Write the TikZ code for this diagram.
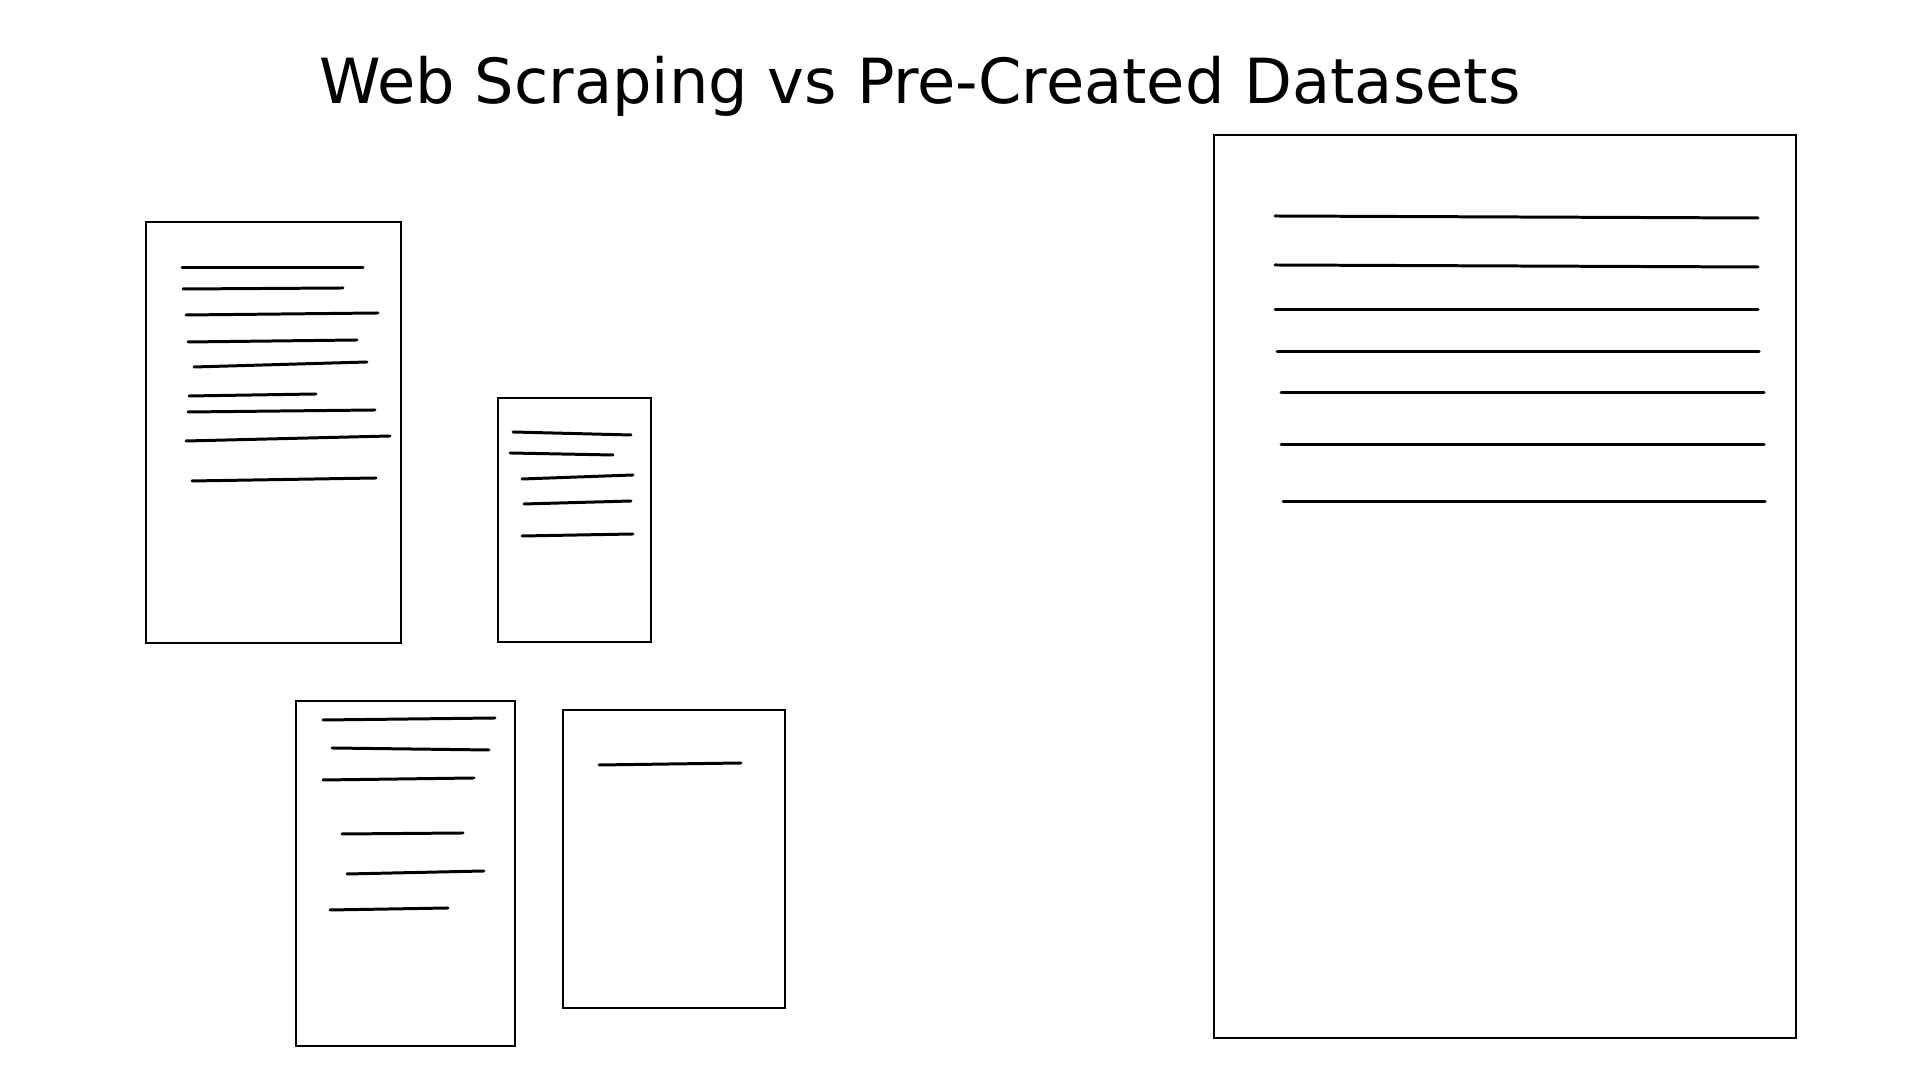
\documentclass[tikz,border=0pt]{standalone}
\usepackage{fontspec}
\setmainfont{DejaVu Sans}

\tikzset{
  docbox/.style={draw=black, line width=0.6pt},
  textline/.style={draw=black, line width=0.85pt, line cap=round}
}

\begin{document}
\begin{tikzpicture}[x=0.01cm, y=-0.01cm]
% Fix the page to 1920 x 1080
\useasboundingbox (0, 0) rectangle (1920, 1080);

% Title
\node[anchor=base, inner sep=0pt, font=\fontsize{17.7}{21}\selectfont] (title) at (920, 104) {Web Scraping vs Pre-Created Datasets};

% Scraped pages, first one
\draw[docbox] (146, 222) rectangle (401, 643);
\draw[textline] (182, 268) -- (363, 268);
\draw[textline] (183, 289) -- (343, 288);
\draw[textline] (186, 315) -- (378, 313);
\draw[textline] (188, 342) -- (357, 340);
\draw[textline] (194, 367) -- (367, 362);
\draw[textline] (189, 396) -- (316, 394);
\draw[textline] (188, 412) -- (375, 410);
\draw[textline] (186, 441) -- (390, 436);
\draw[textline] (192, 481) -- (376, 478);

% Small page
\draw[docbox] (498, 398) rectangle (651, 642);
\draw[textline] (513, 432) -- (631, 435);
\draw[textline] (510, 453) -- (613, 455);
\draw[textline] (522, 479) -- (633, 475);
\draw[textline] (524, 504) -- (631, 501);
\draw[textline] (522, 536) -- (633, 534);

% Bottom left page
\draw[docbox] (296, 701) rectangle (515, 1046);
\draw[textline] (323, 720) -- (495, 718);
\draw[textline] (332, 748) -- (489, 750);
\draw[textline] (323, 780) -- (474, 778);
\draw[textline] (342, 834) -- (463, 833);
\draw[textline] (347, 874) -- (484, 871);
\draw[textline] (330, 910) -- (448, 908);

% Bottom right page
\draw[docbox] (563, 710) rectangle (785, 1008);
\draw[textline] (599, 765) -- (741, 763);

% Pre-created dataset
\draw[docbox] (1214, 135) rectangle (1796, 1038);
\draw[textline] (1275, 216) -- (1758, 218);
\draw[textline] (1275, 265) -- (1758, 267);
\draw[textline] (1275, 310) -- (1758, 310);
\draw[textline] (1277, 352) -- (1759, 352);
\draw[textline] (1281, 393) -- (1764, 393);
\draw[textline] (1281, 445) -- (1764, 445);
\draw[textline] (1283, 502) -- (1765, 502);
\end{tikzpicture}
\end{document}
